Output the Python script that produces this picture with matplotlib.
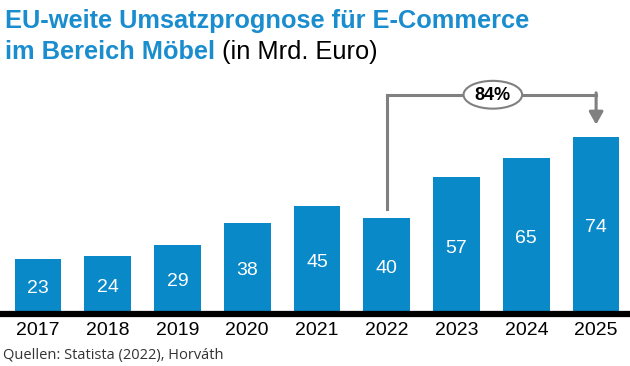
import matplotlib
matplotlib.use("Agg")
import matplotlib.pyplot as plt
from matplotlib.patches import Ellipse

years = ["2017", "2018", "2019", "2020", "2021", "2022", "2023", "2024", "2025"]
values = [23, 24, 29, 38, 45, 40, 57, 65, 74]
growth_label = "84%"
title_line1 = "EU-weite Umsatzprognose für E-Commerce"
title_line2_bold = "im Bereich Möbel"
title_line2_reg = " (in Mrd. Euro)"
source = "Quellen: Statista (2022), Horváth"

BLUE = "#0a89c9"
TITLE_BLUE = "#1a8dce"
GRAY = "#808080"

plt.rcParams['font.family'] = ['Liberation Sans', 'DejaVu Sans']

fig = plt.figure(figsize=(6.3, 3.66), dpi=100)
W, H = 630, 366
ax_bottom_px, ax_top_px = 314, 60
ax = fig.add_axes([3 / W, (H - ax_bottom_px) / H, 628 / W, (ax_bottom_px - ax_top_px) / H])

x = list(range(len(years)))
ax.bar(x, values, width=0.67, color=BLUE, zorder=2)
for xi, v in zip(x, values):
    ax.text(xi, v / 2 - 1, str(v), ha='center', va='center', color='white', fontsize=14, zorder=3)

ax.set_xlim(-0.5, len(years) - 0.5)
ax.set_ylim(0, 106)
ax.set_yticks([])
ax.set_xticks(x)
ax.set_xticklabels(years, fontsize=14)
ax.tick_params(axis='x', length=0, pad=6)
for s in ['top', 'right', 'left']:
    ax.spines[s].set_visible(False)
ax.spines['bottom'].set_linewidth(4.5)
ax.spines['bottom'].set_color('black')
ax.spines['bottom'].set_zorder(4)

# growth bracket 2022 -> 2025
i0, i1 = years.index("2022"), years.index("2025")
y_top = 91.5
ax.plot([i0, i0, i1], [values[i0] + 4, y_top, y_top], color=GRAY, lw=2.2, solid_joinstyle='miter', zorder=3)
ax.annotate('', xy=(i1, values[i1] + 5), xytext=(i1, y_top + 0.8),
            arrowprops=dict(arrowstyle='-|>,head_length=0.75,head_width=0.42', color=GRAY, lw=2.2,
                            shrinkA=0, shrinkB=0), zorder=3)
xm = (i0 + i1) / 2 + 0.02
ell = Ellipse((xm, y_top), width=0.84, height=11.6, facecolor='white', edgecolor=GRAY, lw=1.5, zorder=4)
ax.add_patch(ell)
ax.text(xm, y_top - 0.3, growth_label, ha='center', va='center', fontsize=13, fontweight='bold', zorder=5)

# titles
t1 = fig.text(5 / W, 1 - 28 / H, title_line1, fontsize=18.3, fontweight='bold', color=TITLE_BLUE, va='baseline')
t2 = fig.text(5 / W, 1 - 59 / H, title_line2_bold, fontsize=18.3, fontweight='bold', color=TITLE_BLUE, va='baseline')
fig.canvas.draw()
bb = t2.get_window_extent()
fig.text(bb.x1 / W, 1 - 59 / H, title_line2_reg, fontsize=18.3, color='black', va='baseline')

fig.text(3 / W, 1 - 355 / H, source, fontsize=10.5, color='#333333', va='center', family=['Open Sans', 'DejaVu Sans'])

fig.savefig("out.png", dpi=100)
